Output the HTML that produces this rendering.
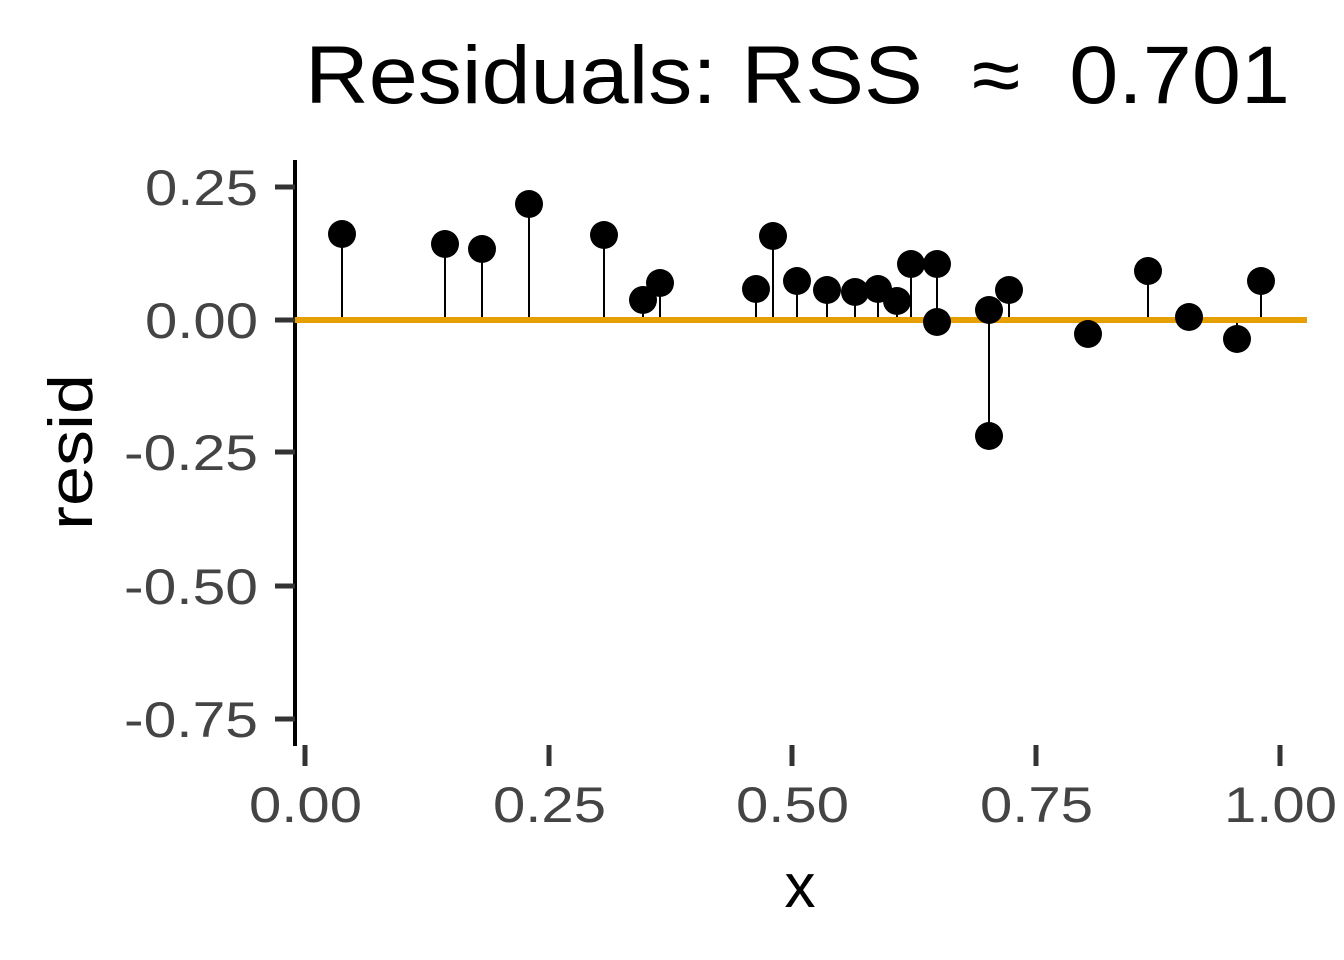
<!DOCTYPE html>
<html><head><meta charset="utf-8"><style>
html,body{margin:0;padding:0;background:#fff}
svg{display:block}
text{font-family:"Liberation Sans",Arial,sans-serif}
</style></head><body>
<svg width="1344" height="960" viewBox="0 0 1344 960" xmlns="http://www.w3.org/2000/svg">
<rect width="1344" height="960" fill="#fff"/>
<text x="305" y="103" font-size="82" fill="#000" textLength="985" lengthAdjust="spacingAndGlyphs" xml:space="preserve">Residuals: RSS  ≈  0.701</text>
<line x1="295" y1="160" x2="295" y2="746" stroke="#000" stroke-width="4"/>
<g stroke="#333" stroke-width="5">
<line x1="275" y1="187" x2="295" y2="187"/>
<line x1="275" y1="320" x2="295" y2="320"/>
<line x1="275" y1="452" x2="295" y2="452"/>
<line x1="275" y1="586" x2="295" y2="586"/>
<line x1="275" y1="719" x2="295" y2="719"/>
<line x1="305" y1="745" x2="305" y2="766"/>
<line x1="549" y1="745" x2="549" y2="766"/>
<line x1="792" y1="745" x2="792" y2="766"/>
<line x1="1036" y1="745" x2="1036" y2="766"/>
<line x1="1280" y1="745" x2="1280" y2="766"/>
</g>
<g font-size="50" fill="#444">
<text x="145" y="205" textLength="113" lengthAdjust="spacingAndGlyphs">0.25</text>
<text x="145" y="338" textLength="113" lengthAdjust="spacingAndGlyphs">0.00</text>
<text x="124" y="470" textLength="134" lengthAdjust="spacingAndGlyphs">-0.25</text>
<text x="124" y="604" textLength="134" lengthAdjust="spacingAndGlyphs">-0.50</text>
<text x="124" y="737" textLength="134" lengthAdjust="spacingAndGlyphs">-0.75</text>
</g>
<g font-size="50" fill="#444">
<text x="249" y="822" textLength="113" lengthAdjust="spacingAndGlyphs">0.00</text>
<text x="493" y="822" textLength="113" lengthAdjust="spacingAndGlyphs">0.25</text>
<text x="736" y="822" textLength="113" lengthAdjust="spacingAndGlyphs">0.50</text>
<text x="980" y="822" textLength="113" lengthAdjust="spacingAndGlyphs">0.75</text>
<text x="1224" y="822" textLength="113" lengthAdjust="spacingAndGlyphs">1.00</text>
</g>
<text x="800" y="907" font-size="62" text-anchor="middle" fill="#000">x</text>
<text transform="translate(92,452) rotate(-90)" x="-78" font-size="62" fill="#000" textLength="156" lengthAdjust="spacingAndGlyphs">resid</text>
<g stroke="#000" stroke-width="2">
<line x1="342" y1="320" x2="342" y2="234"/>
<line x1="445" y1="320" x2="445" y2="244"/>
<line x1="482" y1="320" x2="482" y2="249"/>
<line x1="529" y1="320" x2="529" y2="204"/>
<line x1="604" y1="320" x2="604" y2="235"/>
<line x1="643" y1="320" x2="643" y2="300"/>
<line x1="660" y1="320" x2="660" y2="283"/>
<line x1="756" y1="320" x2="756" y2="289"/>
<line x1="773" y1="320" x2="773" y2="236"/>
<line x1="797" y1="320" x2="797" y2="281"/>
<line x1="827" y1="320" x2="827" y2="290"/>
<line x1="855" y1="320" x2="855" y2="292"/>
<line x1="878" y1="320" x2="878" y2="289"/>
<line x1="897" y1="320" x2="897" y2="301"/>
<line x1="911" y1="320" x2="911" y2="264"/>
<line x1="937" y1="320" x2="937" y2="264"/>
<line x1="989" y1="320" x2="989" y2="436"/>
<line x1="1009" y1="320" x2="1009" y2="290"/>
<line x1="1088" y1="320" x2="1088" y2="334"/>
<line x1="1148" y1="320" x2="1148" y2="271"/>
<line x1="1237" y1="320" x2="1237" y2="339"/>
<line x1="1261" y1="320" x2="1261" y2="281"/>
</g>
<line x1="295" y1="320" x2="1307" y2="320" stroke="#E69F00" stroke-width="6"/>
<g fill="#000">
<circle cx="342" cy="234" r="14"/><circle cx="445" cy="244" r="14"/><circle cx="482" cy="249" r="14"/>
<circle cx="529" cy="204" r="14"/><circle cx="604" cy="235" r="14"/><circle cx="643" cy="300" r="14"/>
<circle cx="660" cy="283" r="14"/><circle cx="756" cy="289" r="14"/><circle cx="773" cy="236" r="14"/>
<circle cx="797" cy="281" r="14"/><circle cx="827" cy="290" r="14"/><circle cx="855" cy="292" r="14"/>
<circle cx="878" cy="289" r="14"/><circle cx="897" cy="301" r="14"/><circle cx="911" cy="264" r="14"/>
<circle cx="937" cy="264" r="14"/><circle cx="937" cy="322" r="14"/><circle cx="989" cy="310" r="14"/>
<circle cx="989" cy="436" r="14"/><circle cx="1009" cy="290" r="14"/><circle cx="1088" cy="334" r="14"/>
<circle cx="1148" cy="271" r="14"/><circle cx="1189" cy="317" r="14"/><circle cx="1237" cy="339" r="14"/>
<circle cx="1261" cy="281" r="14"/>
</g>
</svg>
</body></html>
